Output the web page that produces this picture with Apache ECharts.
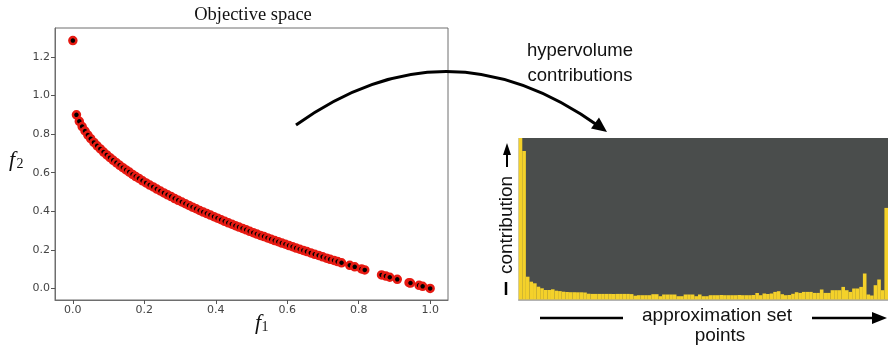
<!DOCTYPE html>
<html>
<head>
<meta charset="utf-8">
<script src="https://cdn.jsdelivr.net/npm/echarts@6/dist/echarts.min.js"></script>
<style>
html,body{margin:0;padding:0;background:#fff;}
#chart{width:888px;height:347px;}
</style>
</head>
<body>
<div id="chart"></div>
<script>
// Objective space: approximation set (f1, f2)
const f1Values = [0.000, 0.010, 0.018, 0.026, 0.034, 0.042, 0.050, 0.059, 0.068, 0.077, 0.086,
  0.095, 0.104, 0.113, 0.122, 0.131, 0.140, 0.149, 0.158, 0.167, 0.176, 0.185, 0.195, 0.205,
  0.215, 0.225, 0.235, 0.245, 0.255, 0.265, 0.275, 0.285, 0.295, 0.305, 0.315, 0.325, 0.335,
  0.345, 0.355, 0.365, 0.375, 0.385, 0.395, 0.405, 0.415, 0.425, 0.435, 0.445, 0.455, 0.465,
  0.475, 0.485, 0.495, 0.505, 0.515, 0.525, 0.535, 0.545, 0.555, 0.565, 0.575, 0.585, 0.595,
  0.605, 0.615, 0.625, 0.635, 0.645, 0.655, 0.666, 0.677, 0.688, 0.699, 0.710, 0.720, 0.731,
  0.741, 0.752, 0.775, 0.789, 0.808, 0.817, 0.864, 0.876, 0.887, 0.908, 0.941, 0.945, 0.969,
  0.979, 1.000];
const f2Values = [1.285, 0.900, 0.866, 0.839, 0.816, 0.795, 0.776, 0.757, 0.739, 0.723, 0.707,
  0.692, 0.678, 0.664, 0.651, 0.638, 0.626, 0.614, 0.603, 0.591, 0.580, 0.570, 0.558, 0.547,
  0.536, 0.526, 0.515, 0.505, 0.495, 0.485, 0.476, 0.466, 0.457, 0.448, 0.439, 0.430, 0.421,
  0.413, 0.404, 0.396, 0.388, 0.380, 0.372, 0.364, 0.356, 0.348, 0.340, 0.333, 0.325, 0.318,
  0.311, 0.304, 0.296, 0.289, 0.282, 0.275, 0.269, 0.262, 0.255, 0.248, 0.242, 0.235, 0.229,
  0.222, 0.216, 0.209, 0.203, 0.197, 0.191, 0.184, 0.177, 0.171, 0.164, 0.157, 0.151, 0.145,
  0.139, 0.133, 0.120, 0.112, 0.101, 0.096, 0.070, 0.064, 0.058, 0.047, 0.030, 0.028, 0.016,
  0.011, 0.000];
const xTicks = [0.0, 0.2, 0.4, 0.6, 0.8, 1.0];
const yTicks = [0.0, 0.2, 0.4, 0.6, 0.8, 1.0, 1.2];

// Hypervolume contributions per approximation set point (relative units)
const contributions = [161.5, 148.5, 22.8, 17.8, 16.2, 12.8, 11.2, 9.5, 9.5, 10.2, 8.8,
  8.4, 7.8, 7.5, 7.3, 7.3, 7.2, 7.2, 7.0, 5.8, 5.6, 5.6, 5.6, 5.6, 5.6, 5.6, 5.5, 5.6, 5.6,
  5.6, 5.6, 5.4, 3.8, 4.3, 4.3, 4.3, 4.3, 5.3, 5.3, 3.3, 5.0, 5.0, 5.0, 5.0, 3.3, 3.3, 5.0,
  5.0, 5.0, 3.3, 5.0, 3.3, 3.3, 4.3, 4.3, 4.3, 4.5, 4.3, 4.3, 4.3, 4.3, 4.5, 4.3, 4.3, 4.3,
  4.5, 6.5, 4.3, 6.0, 5.5, 6.0, 7.6, 8.3, 5.3, 4.3, 4.5, 5.7, 7.3, 6.6, 7.6, 7.6, 7.6, 6.6,
  6.6, 10.0, 6.6, 6.6, 9.3, 9.3, 9.3, 12.6, 9.3, 7.6, 11.0, 11.0, 12.6, 26.0, 5.0, 4.0,
  14.3, 20.0, 9.3, 91.6];
const pointLabels = contributions.map((_, i) => String(i + 1));

const chart = echarts.init(document.getElementById('chart'), null, {renderer: 'canvas'});

const option = {
  animation: false,
  backgroundColor: '#ffffff',
  grid: [
    {left: 55, top: 28, width: 393, height: 272, show: true, borderColor: '#6e6e6e', borderWidth: 1, backgroundColor: 'transparent'},
    {left: 518.7, top: 138, width: 372.2, height: 161.5, show: true, borderWidth: 0, backgroundColor: '#4a4d4c'}
  ],
  xAxis: [
    {
      gridIndex: 0, type: 'value', min: -0.05, max: 1.05,
      axisLine: {show: true, onZero: false, lineStyle: {color: '#6e6e6e', width: 1}},
      axisTick: {show: true, length: 4, customValues: xTicks, lineStyle: {color: '#555'}},
      axisLabel: {customValues: xTicks, formatter: v => v.toFixed(1), color: '#444', fontSize: 11, fontFamily: 'DejaVu Sans', margin: 5},
      splitLine: {show: false}
    },
    {
      gridIndex: 1, type: 'category', data: pointLabels,
      axisLine: {show: true, lineStyle: {color: '#9a9a9a', width: 1.5}},
      axisTick: {show: false}, axisLabel: {show: false}, splitLine: {show: false}
    }
  ],
  yAxis: [
    {
      gridIndex: 0, type: 'value', min: -0.06, max: 1.35,
      axisLine: {show: true, onZero: false, lineStyle: {color: '#6e6e6e', width: 1}},
      axisTick: {show: true, length: 4, customValues: yTicks, lineStyle: {color: '#555'}},
      axisLabel: {customValues: yTicks, formatter: v => v.toFixed(1), color: '#444', fontSize: 11, fontFamily: 'DejaVu Sans', margin: 5},
      splitLine: {show: false}
    },
    {
      gridIndex: 1, type: 'value', min: 0, max: 161.5,
      axisLine: {show: false}, axisTick: {show: false}, axisLabel: {show: false}, splitLine: {show: false}
    }
  ],
  series: [
    {
      type: 'scatter', xAxisIndex: 0, yAxisIndex: 0,
      data: f1Values.map((x, i) => [x, f2Values[i]]),
      symbol: 'circle', symbolSize: 7,
      itemStyle: {color: '#000', borderColor: '#e61a12', borderWidth: 2.5, opacity: 1},
      emphasis: {disabled: true}
    },
    {
      type: 'bar', xAxisIndex: 1, yAxisIndex: 1,
      data: contributions, barWidth: '100%', barCategoryGap: 0,
      itemStyle: {color: '#f4d12a'},
      emphasis: {disabled: true}
    }
  ],
  graphic: [
    {type: 'text', x: 253, y: 15, style: {text: 'Objective space', font: '18.5px "Liberation Serif"', fill: '#111', textAlign: 'center', textVerticalAlign: 'middle'}},
    {type: 'text', x: 258, y: 323, style: {text: 'f', font: 'italic 22px "Liberation Serif"', fill: '#111', textAlign: 'center', textVerticalAlign: 'middle'}},
    {type: 'text', x: 265, y: 327, style: {text: '1', font: '14px "Liberation Serif"', fill: '#111', textAlign: 'center', textVerticalAlign: 'middle'}},
    {type: 'text', x: 12, y: 160, style: {text: 'f', font: 'italic 22px "Liberation Serif"', fill: '#111', textAlign: 'center', textVerticalAlign: 'middle'}},
    {type: 'text', x: 20, y: 164, style: {text: '2', font: '14px "Liberation Serif"', fill: '#111', textAlign: 'center', textVerticalAlign: 'middle'}},
    // curved arrow
    {type: 'bezierCurve', shape: {x1: 296, y1: 125, cpx1: 447, cpy1: 17, x2: 600, y2: 127}, style: {stroke: '#000', lineWidth: 3, fill: null}},
    {type: 'polygon', shape: {points: [[607, 132], [591, 128.5], [599, 117.5]]}, style: {fill: '#000'}},
    {type: 'text', x: 580, y: 51, style: {text: 'hypervolume', font: '18.5px "Liberation Sans"', fill: '#111', textAlign: 'center', textVerticalAlign: 'middle'}},
    {type: 'text', x: 580, y: 76, style: {text: 'contributions', font: '18.5px "Liberation Sans"', fill: '#111', textAlign: 'center', textVerticalAlign: 'middle'}},
    // vertical contribution arrow
    {type: 'polygon', shape: {points: [[507, 143], [503, 155], [511, 155]]}, style: {fill: '#000'}},
    {type: 'line', shape: {x1: 507, y1: 154, x2: 507, y2: 167}, style: {stroke: '#000', lineWidth: 2}},
    {type: 'line', shape: {x1: 506, y1: 282, x2: 506, y2: 295}, style: {stroke: '#000', lineWidth: 2.5}},
    {type: 'text', x: 507, y: 225, rotation: Math.PI / 2, style: {text: 'contribution', font: '19px "Liberation Sans"', fill: '#111', textAlign: 'center', textVerticalAlign: 'middle'}},
    // horizontal approximation set arrow
    {type: 'line', shape: {x1: 540, y1: 318, x2: 623, y2: 318}, style: {stroke: '#000', lineWidth: 2.5}},
    {type: 'line', shape: {x1: 812, y1: 318, x2: 874, y2: 318}, style: {stroke: '#000', lineWidth: 2.5}},
    {type: 'polygon', shape: {points: [[887, 318], [872, 312], [872, 324]]}, style: {fill: '#000'}},
    {type: 'text', x: 717, y: 316, style: {text: 'approximation set', font: '19px "Liberation Sans"', fill: '#111', textAlign: 'center', textVerticalAlign: 'middle'}},
    {type: 'text', x: 720, y: 336, style: {text: 'points', font: '19px "Liberation Sans"', fill: '#111', textAlign: 'center', textVerticalAlign: 'middle'}}
  ]
};
chart.setOption(option);
</script>
</body>
</html>
